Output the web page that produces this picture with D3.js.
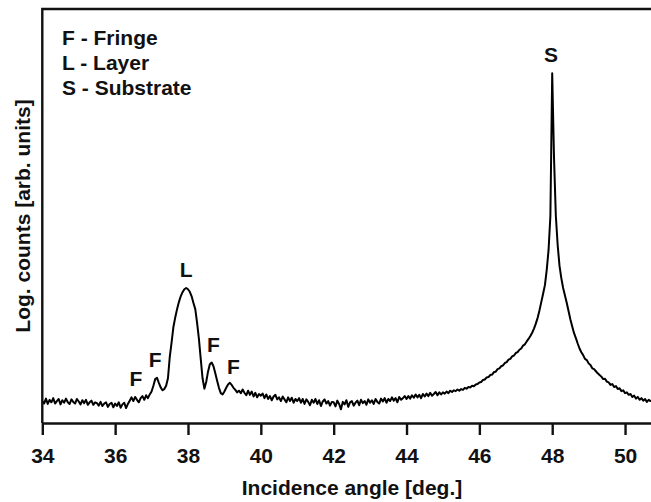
<!DOCTYPE html>
<html>
<head>
<meta charset="utf-8">
<script src="https://d3js.org/d3.v7.min.js"></script>
<title>XRD scan</title>
<style>
body { margin: 0; background: #fff; }
svg { display: block; }
text { font-family: "Liberation Sans", Arial, sans-serif; font-weight: bold; fill: #111; }
</style>
</head>
<body>
<svg id="svg" width="651" height="502"></svg>
<script>

// scan: start angle, step, log counts (arb. units)
let scanStart = 34;
let scanStep = 0.05;
let counts = [
  5.3, 4.7, 5.9, 4.6, 5.6, 5.0, 6.0, 4.7, 5.3, 5.8, 4.5, 5.5, 4.9, 5.9, 5.0, 4.6, 5.7, 5.1, 4.7, 5.8,
  5.2, 4.5, 5.5, 4.8, 5.6, 4.4, 5.0, 5.4, 4.4, 5.0, 4.8, 4.2, 5.1, 4.1, 4.7, 5.0, 3.9, 4.6, 4.9, 3.8,
  4.7, 4.1, 5.0, 3.7, 4.5, 4.9, 3.6, 4.6, 5.4, 6.2, 5.3, 6.3, 5.6, 5.0, 6.0, 6.5, 5.6, 6.7, 6.0, 6.9,
  7.6, 9.0, 10.6, 10.9, 9.7, 8.6, 7.9, 8.2, 9.0, 10.8, 16.0, 19.5, 23.2, 25.5, 27.5, 29.2, 30.6, 31.6, 32.3, 32.6,
  32.3, 31.7, 30.6, 29.0, 27.5, 24.2, 20.3, 15.5, 10.8, 8.3, 9.9, 12.4, 14.2, 14.6, 13.7, 12.0, 10.2, 8.5, 7.2, 6.9,
  7.6, 8.5, 9.3, 9.7, 9.2, 8.5, 8.0, 7.4, 7.8, 7.2, 8.1, 7.3, 6.7, 7.8, 6.8, 7.6, 6.4, 7.3, 6.2, 7.0,
  6.6, 7.1, 6.0, 6.9, 5.8, 6.5, 5.5, 6.4, 6.8, 5.7, 6.2, 5.3, 6.4, 5.7, 5.0, 6.2, 5.3, 6.1, 4.9, 5.8,
  5.3, 6.0, 4.9, 5.8, 4.6, 5.7, 5.1, 4.3, 5.6, 4.9, 5.8, 4.6, 5.5, 4.1, 5.2, 5.7, 4.7, 5.3, 4.2, 5.1,
  5.0, 4.0, 5.4, 4.6, 3.3, 5.1, 4.5, 5.5, 3.9, 5.0, 5.3, 4.2, 4.9, 5.4, 4.3, 5.6, 4.8, 5.3, 4.4, 5.7,
  4.9, 5.5, 4.6, 5.8, 5.1, 4.7, 5.9, 5.2, 6.0, 4.9, 5.8, 5.3, 6.2, 5.4, 6.0, 5.0, 6.3, 5.6, 6.0, 6.5,
  5.8, 6.5, 5.9, 6.7, 6.1, 6.9, 6.2, 6.8, 6.0, 7.0, 6.4, 7.1, 6.5, 7.3, 6.6, 7.0, 7.5, 6.7, 7.4, 6.9,
  7.4, 7.1, 7.6, 7.2, 7.8, 7.5, 7.9, 7.7, 8.1, 7.8, 8.2, 8.0, 8.5, 8.3, 8.7, 8.6, 9.0, 8.9, 9.3, 9.4,
  9.8, 9.9, 10.4, 10.5, 11.0, 11.1, 11.6, 11.7, 12.3, 12.4, 13.0, 13.2, 13.7, 13.9, 14.5, 14.7, 15.3, 15.5, 16.1, 16.3,
  16.9, 17.1, 17.7, 18.0, 18.7, 19.0, 19.7, 20.3, 21.0, 21.8, 22.8, 24.0, 25.4, 27.2, 29.2, 31.2, 33.3, 37.0, 41.8, 50.0,
  84.5, 64.0, 50.0, 43.0, 38.0, 35.0, 32.6, 30.8, 29.0, 27.0, 25.0, 23.3, 21.7, 20.5, 19.2, 18.0, 17.1, 16.4, 15.5, 15.2,
  14.4, 14.0, 13.2, 13.0, 12.5, 12.0, 11.6, 11.2, 10.6, 10.7, 10.0, 9.8, 9.2, 9.4, 8.7, 8.9, 8.2, 8.4, 7.7, 7.9,
  7.2, 7.4, 6.8, 7.0, 6.3, 6.6, 5.9, 6.3, 5.6, 6.0, 5.4, 5.8, 5.1, 5.6, 5.3, 5.5
];

let xTicks = [34, 36, 38, 40, 42, 44, 46, 48, 50];

// peak annotations
let peakNames = ["F", "F", "L", "F", "F", "S"];
let peakAngles = [36.57, 37.1, 37.95, 38.7, 39.25, 47.97];

// legend
let legendKeys = ["F", "L", "S"];
let legendNames = ["Fringe", "Layer", "Substrate"];

let plotLeft = 42.3, plotRight = 652, plotTop = 9, plotBottom = 423;

let points = counts.map(function(c, i) {
  return { angle: scanStart + i * scanStep, value: c };
});

let x = d3.scaleLinear().domain([34, 50.74]).range([plotLeft, plotRight]);
let y = d3.scaleLinear().domain([0, 100]).range([plotBottom, plotTop]);

let svg = d3.select("svg");

svg.append("defs").append("clipPath").attr("id", "plotclip")
  .append("rect")
  .attr("x", plotLeft).attr("y", plotTop)
  .attr("width", plotRight - plotLeft).attr("height", plotBottom - plotTop);

// the curve
let line = d3.line()
  .x(function(d) { return x(d.angle); })
  .y(function(d) { return y(d.value); });

svg.append("path")
  .datum(points)
  .attr("clip-path", "url(#plotclip)")
  .attr("fill", "none")
  .attr("stroke", "#000")
  .attr("stroke-width", 2)
  .attr("stroke-linejoin", "round")
  .attr("d", line);

// frame (left + top), bottom axis drawn by d3
svg.append("path")
  .attr("d", "M" + plotLeft + "," + plotBottom + "V" + plotTop + "H" + (plotRight + 5))
  .attr("fill", "none")
  .attr("stroke", "#111")
  .attr("stroke-width", 2.4);

let xAxis = d3.axisBottom(x)
  .tickValues(xTicks)
  .tickFormat(d3.format("d"))
  .tickSize(12)
  .tickSizeOuter(0)
  .tickPadding(13);

let gx = svg.append("g")
  .attr("transform", "translate(0," + plotBottom + ")")
  .call(xAxis);

gx.select(".domain").attr("stroke", "#111").attr("stroke-width", 2.4);
gx.selectAll(".tick line").attr("stroke", "#111").attr("stroke-width", 2.4);
gx.selectAll(".tick text")
  .attr("font-family", null)
  .attr("font-size", null)
  .style("font-size", "21px");

// axis titles
svg.append("text")
  .attr("x", 352)
  .attr("y", 495)
  .attr("text-anchor", "middle")
  .style("font-size", "21px")
  .text("Incidence angle [deg.]");

svg.append("text")
  .attr("transform", "translate(30,216) rotate(-90)")
  .attr("text-anchor", "middle")
  .style("font-size", "21px")
  .text("Log. counts [arb. units]");

// legend
svg.selectAll(".legend")
  .data(legendKeys)
  .enter().append("text")
  .attr("class", "legend")
  .attr("x", 62)
  .attr("y", function(d, i) { return 45 + i * 25; })
  .style("font-size", "21px")
  .text(function(d, i) { return d + " - " + legendNames[i]; });

// peak labels sit just above the highest point near each angle
function peakTop(a) {
  let near = points.filter(function(p) { return Math.abs(p.angle - a) <= 0.08; });
  return d3.max(near, function(p) { return p.value; });
}

svg.selectAll(".peak")
  .data(peakAngles)
  .enter().append("text")
  .attr("class", "peak")
  .attr("x", function(d) { return x(d); })
  .attr("y", function(d) { return y(peakTop(d)) - 11; })
  .attr("text-anchor", "middle")
  .style("font-size", "21px")
  .text(function(d, i) { return peakNames[i]; });

</script>
</body>
</html>
